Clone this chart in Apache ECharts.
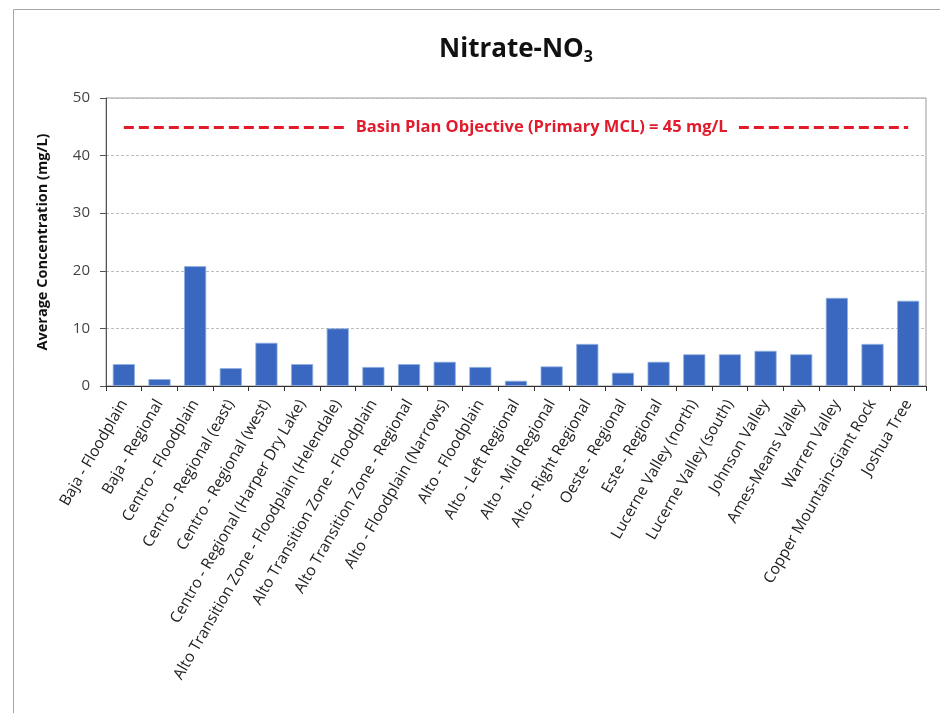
<!DOCTYPE html>
<html>
<head>
<meta charset="utf-8">
<script src="https://cdn.jsdelivr.net/npm/echarts@6/dist/echarts.min.js"></script>
<style>html,body{margin:0;padding:0;background:#fff;}#c{width:940px;height:713px;}</style>
</head>
<body>
<div id="c"></div>
<script>
const categories = [
  'Baja - Floodplain', 'Baja - Regional', 'Centro - Floodplain', 'Centro - Regional (east)',
  'Centro - Regional (west)', 'Centro - Regional (Harper Dry Lake)',
  'Alto Transition Zone - Floodplain (Helendale)', 'Alto Transition Zone - Floodplain',
  'Alto Transition Zone - Regional', 'Alto - Floodplain (Narrows)', 'Alto - Floodplain',
  'Alto - Left Regional', 'Alto - Mid Regional', 'Alto - Right Regional', 'Oeste - Regional',
  'Este - Regional', 'Lucerne Valley (north)', 'Lucerne Valley (south)', 'Johnson Valley',
  'Ames-Means Valley', 'Warren Valley', 'Copper Mountain-Giant Rock', 'Joshua Tree'
];
const avgConcentration = [3.8, 1.2, 20.8, 3.1, 7.5, 3.8, 10.0, 3.3, 3.8, 4.2, 3.3, 0.9,
  3.4, 7.3, 2.3, 4.2, 5.5, 5.5, 6.1, 5.5, 15.3, 7.3, 14.8];
const objectiveValue = 45;
const objectiveLabel = 'Basin Plan Objective (Primary MCL) = 45 mg/L';
const yTicks = [0, 10, 20, 30, 40, 50];

const FONT = '"Open Sans", "Liberation Sans", sans-serif';
const chart = echarts.init(document.getElementById('c'), null, {renderer: 'canvas'});
chart.setOption({
  backgroundColor: '#fff',
  animation: false,
  graphic: [{
    type: 'rect', left: 11, top: 7, shape: {width: 1000, height: 1000},
    style: {fill: 'none', stroke: '#a6a6a6', lineWidth: 1}, silent: true, z: -1
  }],
  title: {
    text: '{m|Nitrate-NO}{s|3}',
    left: 511, top: 30, textAlign: 'center',
    textStyle: {
      rich: {
        m: {fontFamily: FONT, fontSize: 26, fontWeight: 'bold', color: '#111'},
        s: {fontFamily: FONT, fontSize: 16, fontWeight: 'bold', color: '#111', padding: [14, 0, 0, 0]}
      }
    }
  },
  grid: {left: 106, right: 14, top: 98, bottom: 327, show: true, borderColor: '#9a9a9a', borderWidth: 1},
  xAxis: {
    type: 'category',
    data: categories,
    axisLine: {lineStyle: {color: '#333', width: 1}},
    axisTick: {show: true, alignWithLabel: false, length: 5, lineStyle: {color: '#333'}},
    axisLabel: {rotate: 60, interval: 0, fontFamily: FONT, fontSize: 15.5, color: '#222', margin: 15}
  },
  yAxis: {
    type: 'value', min: 0, max: 50, interval: 10,
    name: 'Average Concentration (mg/L)',
    nameLocation: 'middle', nameGap: 56,
    nameTextStyle: {fontFamily: FONT, fontSize: 14.5, fontWeight: 'bold', color: '#111'},
    axisLine: {show: true, lineStyle: {color: '#555'}},
    axisTick: {show: true, length: 6, lineStyle: {color: '#555'}},
    axisLabel: {fontFamily: FONT, fontSize: 15, color: '#444', margin: 16,
      formatter: v => yTicks.indexOf(v) >= 0 ? String(v) : ''},
    splitLine: {show: true, lineStyle: {color: '#bdbdbd', type: [3, 2], width: 1}}
  },
  series: [{
    type: 'bar',
    data: avgConcentration,
    barCategoryGap: '38%',
    itemStyle: {color: '#3a67c0', borderColor: '#8fb0e0', borderWidth: 0.8},
    markLine: {
      symbol: 'none', silent: true,
      lineStyle: {color: '#e21b2c', type: [10, 5], width: 3},
      label: {show: false},
      data: [[{coord: [categories[0], objectiveValue]}, {coord: [categories[categories.length - 1], objectiveValue]}]]
    },
    markPoint: {
      symbol: 'rect', symbolSize: 0, silent: true,
      data: [{coord: [categories[12], objectiveValue]}],
      label: {
        show: true, position: 'inside', formatter: objectiveLabel, offset: [-10, 0],
        fontFamily: FONT, fontSize: 16.5, fontWeight: 'bold', color: '#e21b2c',
        backgroundColor: '#fff', padding: [3, 11]
      }
    }
  }]
});
</script>
</body>
</html>
